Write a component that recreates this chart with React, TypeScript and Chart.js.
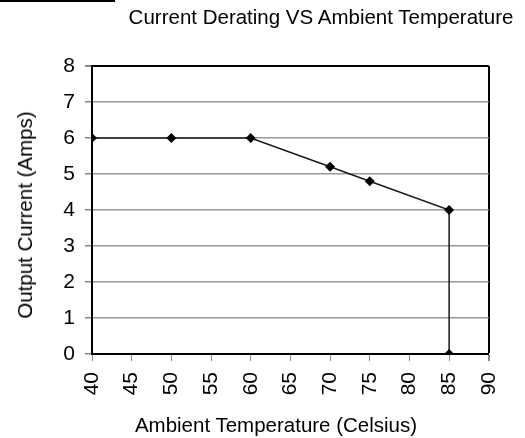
import React, { useEffect, useRef } from "react";
import { Chart, registerables } from "chart.js";

Chart.register(...registerables);

const temperatures = [40, 50, 60, 70, 75, 85, 85];
const currents = [6, 6, 6, 5.2, 4.8, 4, 0];
const xTickMin = 40;
const xTickMax = 90;
const xTickStep = 5;
const yTickMin = 0;
const yTickMax = 8;
const yTickStep = 1;
const chartTitle = "Current Derating VS Ambient Temperature";
const xTitle = "Ambient Temperature (Celsius)";
const yTitle = "Output Current (Amps)";

const FONT = "'Liberation Sans', Arial, sans-serif";

export default function App() {
  const canvasRef = useRef<HTMLCanvasElement | null>(null);

  useEffect(() => {
    const canvas = canvasRef.current;
    if (!canvas) return;
    const points = temperatures.map((t, i) => ({ x: t, y: currents[i] }));
    const chart = new Chart(canvas, {
      type: "scatter",
      data: {
        datasets: [
          {
            data: points,
            showLine: true,
            borderColor: "#1a1a1a",
            borderWidth: 1.5,
            pointStyle: "rectRot",
            pointRadius: 5,
            pointHoverRadius: 5,
            pointBackgroundColor: "#000",
            pointBorderColor: "#000",
            pointBorderWidth: 0,
            tension: 0,
          },
        ],
      },
      options: {
        animation: false,
        responsive: false,
        maintainAspectRatio: false,
        events: [],
        layout: { padding: { left: 0, right: 35, top: 66, bottom: 0 } },
        plugins: {
          legend: { display: false },
          title: { display: false },
          tooltip: { enabled: false },
        },
        scales: {
          x: {
            type: "linear",
            min: xTickMin,
            max: xTickMax,
            afterFit: (s: any) => {
              s.height = 84;
            },
            ticks: {
              stepSize: xTickStep,
              minRotation: 90,
              maxRotation: 90,
              color: "#000",
              padding: 11,
              font: { family: FONT, size: 21 },
            },
            grid: {
              drawOnChartArea: true,
              color: (ctx: any) => (ctx.tick && ctx.tick.value === xTickMax ? "#000" : "rgba(0,0,0,0)"),
              lineWidth: (ctx: any) => (ctx.tick && ctx.tick.value === xTickMax ? 2 : 1),
              tickColor: "#888",
              tickLength: 7,
            },
            border: { color: "#000", width: 2 },
          },
          y: {
            type: "linear",
            min: yTickMin,
            max: yTickMax,
            afterFit: (s: any) => {
              s.width = 92;
            },
            ticks: {
              stepSize: yTickStep,
              color: "#000",
              padding: 10,
              font: { family: FONT, size: 21 },
            },
            grid: {
              color: (ctx: any) => (ctx.tick && ctx.tick.value === yTickMax ? "#000" : "#999"),
              lineWidth: (ctx: any) => (ctx.tick && ctx.tick.value === yTickMax ? 2 : 1.5),
              tickColor: "#888",
              tickLength: 7,
            },
            border: { color: "#000", width: 2 },
          },
        },
      },
    });
    return () => chart.destroy();
  }, []);

  const textStyle: React.CSSProperties = {
    position: "absolute",
    fontFamily: FONT,
    fontSize: 20.5,
    color: "#000",
    whiteSpace: "nowrap",
    lineHeight: "22px",
  };

  return (
    <div style={{ position: "absolute", left: 0, top: 0, width: 525, height: 438, background: "#fff", overflow: "hidden" }}>
      <div style={{ position: "absolute", left: 0, top: 0, width: 115, height: 2, background: "#000" }} />
      <canvas ref={canvasRef} width={525} height={438} style={{ position: "absolute", left: 0, top: 0 }} />
      <div style={{ ...textStyle, left: 321, top: 6, transform: "translateX(-50%)" }}>{chartTitle}</div>
      <div style={{ ...textStyle, left: 276, top: 414, transform: "translateX(-50%)" }}>{xTitle}</div>
      <div
        style={{
          ...textStyle,
          left: 25,
          top: 215,
          transform: "translate(-50%, -50%) rotate(-90deg)",
        }}
      >
        {yTitle}
      </div>
    </div>
  );
}
